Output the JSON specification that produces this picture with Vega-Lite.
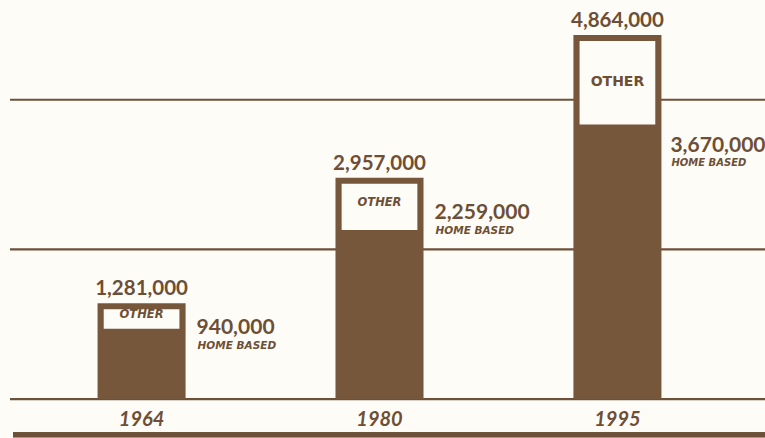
{
  "$schema": "https://vega.github.io/schema/vega-lite/v6.json",
  "width": 765,
  "height": 438,
  "autosize": {"type": "fit", "contains": "padding"},
  "padding": 0,
  "background": "#fdfcf7",
  "config": {"view": {"stroke": null}},
  "datasets": {
    "bars": [
      {"year": "1964", "total": 1281000, "home": 940000, "totalLabel": "1,281,000", "homeLabel": "940,000"},
      {"year": "1980", "total": 2957000, "home": 2259000, "totalLabel": "2,957,000", "homeLabel": "2,259,000"},
      {"year": "1995", "total": 4864000, "home": 3670000, "totalLabel": "4,864,000", "homeLabel": "3,670,000"}
    ],
    "grid": [{"v": 0}, {"v": 2000000}, {"v": 4000000}]
  },
  "data": {"name": "bars"},
  "encoding": {
    "x": {"field": "year", "type": "nominal", "axis": null,
          "scale": {"paddingInner": 0.63, "paddingOuter": 0.41}}
  },
  "layer": [
    {
      "data": {"name": "grid"},
      "mark": {"type": "rule", "color": "#6e5038", "strokeWidth": 2.2},
      "encoding": {
        "x": {"value": 10},
        "x2": {"value": 765},
        "y": {"field": "v", "type": "quantitative", "axis": null,
              "scale": {"domain": [-506667, 5333333], "nice": false, "zero": false}}
      }
    },
    {
      "mark": {"type": "rule", "color": "#6e5038", "strokeWidth": 5},
      "encoding": {
        "x": {"value": 13},
        "x2": {"value": 765},
        "y": {"datum": -475000, "type": "quantitative"}
      }
    },
    {
      "mark": {"type": "bar", "color": "#76573b"},
      "encoding": {
        "y": {"field": "total", "type": "quantitative"},
        "y2": {"datum": 0}
      }
    },
    {
      "mark": {"type": "bar", "color": "#fdfcf7", "width": {"band": 0.86}, "yOffset": 6},
      "encoding": {
        "y": {"field": "total", "type": "quantitative"},
        "y2": {"field": "home"}
      }
    },
    {
      "mark": {"type": "text", "color": "#6e4f35", "font": "Lato", "fontWeight": "bold", "fontSize": 20.5, "baseline": "bottom", "dy": -4},
      "encoding": {
        "y": {"field": "total", "type": "quantitative"},
        "text": {"field": "totalLabel"}
      }
    },
    {
      "transform": [
        {"filter": "datum.year !== '1995'"},
        {"calculate": "(datum.total + datum.home) / 2", "as": "mid"}
      ],
      "mark": {"type": "text", "color": "#6e4f35", "font": "DejaVu Sans", "fontWeight": "bold", "fontStyle": "italic", "fontSize": 11.5, "baseline": "middle", "dy": -1},
      "encoding": {
        "y": {"field": "mid", "type": "quantitative"},
        "text": {"value": "OTHER"}
      }
    },
    {
      "transform": [
        {"filter": "datum.year === '1995'"},
        {"calculate": "(datum.total + datum.home) / 2", "as": "mid"}
      ],
      "mark": {"type": "text", "color": "#6e4f35", "font": "DejaVu Sans", "fontWeight": "bold", "fontSize": 14, "baseline": "middle", "dy": 2},
      "encoding": {
        "y": {"field": "mid", "type": "quantitative"},
        "text": {"value": "OTHER"}
      }
    },
    {
      "transform": [{"filter": "datum.year === '1964'"}],
      "layer": [
        {
          "mark": {"type": "text", "color": "#6e4f35", "font": "Lato", "fontWeight": "bold", "fontSize": 21, "align": "left", "baseline": "middle", "dx": 55, "dy": -1},
          "encoding": {"y": {"field": "home", "type": "quantitative"}, "text": {"field": "homeLabel"}}
        },
        {
          "mark": {"type": "text", "color": "#6e4f35", "font": "DejaVu Sans", "fontWeight": "bold", "fontStyle": "italic", "fontSize": 10.5, "align": "left", "baseline": "middle", "dx": 56, "dy": 17},
          "encoding": {"y": {"field": "home", "type": "quantitative"}, "text": {"value": "HOME BASED"}}
        }
      ]
    },
    {
      "transform": [{"filter": "datum.year === '1980'"}],
      "layer": [
        {
          "mark": {"type": "text", "color": "#6e4f35", "font": "Lato", "fontWeight": "bold", "fontSize": 21, "align": "left", "baseline": "middle", "dx": 55, "dy": -17},
          "encoding": {"y": {"field": "home", "type": "quantitative"}, "text": {"field": "homeLabel"}}
        },
        {
          "mark": {"type": "text", "color": "#6e4f35", "font": "DejaVu Sans", "fontWeight": "bold", "fontStyle": "italic", "fontSize": 10.5, "align": "left", "baseline": "middle", "dx": 56, "dy": 1},
          "encoding": {"y": {"field": "home", "type": "quantitative"}, "text": {"value": "HOME BASED"}}
        }
      ]
    },
    {
      "transform": [{"filter": "datum.year === '1995'"}],
      "layer": [
        {
          "mark": {"type": "text", "color": "#6e4f35", "font": "Lato", "fontWeight": "bold", "fontSize": 21, "align": "left", "baseline": "middle", "dx": 53, "dy": 22},
          "encoding": {"y": {"field": "home", "type": "quantitative"}, "text": {"field": "homeLabel"}}
        },
        {
          "mark": {"type": "text", "color": "#6e4f35", "font": "DejaVu Sans", "fontWeight": "bold", "fontStyle": "italic", "fontSize": 10, "align": "left", "baseline": "middle", "dx": 54, "dy": 39},
          "encoding": {"y": {"field": "home", "type": "quantitative"}, "text": {"value": "HOME BASED"}}
        }
      ]
    },
    {
      "mark": {"type": "text", "color": "#6e4f35", "font": "Lato", "fontWeight": "bold", "fontStyle": "italic", "fontSize": 20, "baseline": "middle"},
      "encoding": {
        "y": {"datum": -280000, "type": "quantitative"},
        "text": {"field": "year"}
      }
    }
  ]
}
